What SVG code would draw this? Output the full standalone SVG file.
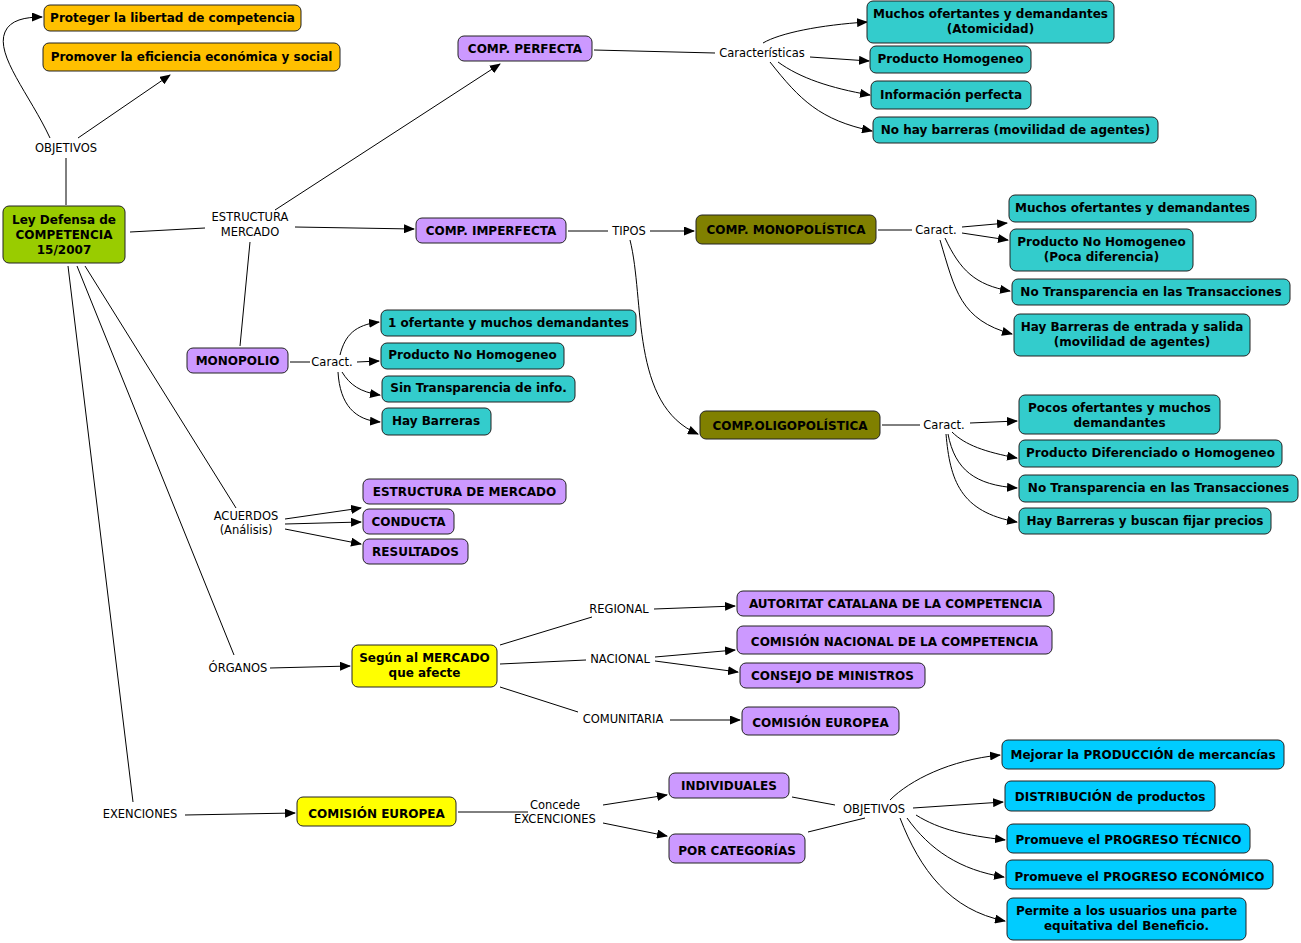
<svg xmlns="http://www.w3.org/2000/svg" width="1301" height="943" viewBox="0 0 1301 943">
<defs>
<marker id="ah" markerWidth="11" markerHeight="9" refX="10" refY="4.5" orient="auto" markerUnits="userSpaceOnUse">
<path d="M0,0 L11,4.5 L0,9 z" fill="#000"/>
</marker>
<style>
.n rect{stroke:#222;stroke-width:1;rx:6;ry:6}
.n text{font-family:"DejaVu Sans",Verdana,sans-serif;font-size:12px;font-weight:bold;fill:#000;text-anchor:middle}
.or rect{fill:#FFC000}
.gr rect{fill:#99CC00}
.pu rect{fill:#CC99FF}
.te rect{fill:#33CCCC}
.ol rect{fill:#808000}
.ye rect{fill:#FFFF00}
.cy rect{fill:#00CCFF}
.lb{font-family:"DejaVu Sans",Tahoma,sans-serif;font-size:11.5px;fill:#000;text-anchor:middle}
#connectors path{fill:none;stroke:#000;stroke-width:1}
#connectors .a{marker-end:url(#ah)}
</style>
</defs>
<rect width="1301" height="943" fill="#fff"/>

<g id="connectors">
<path d="M66,205 L66,158"/>
<path class="a" d="M50,138 C30,95 -5,55 5,32 C10,20 25,17 42,17"/>
<path class="a" d="M78,138 L170,75"/>
<path d="M130,232 L205,228"/>
<path class="a" d="M275,210 L500,64"/>
<path class="a" d="M295,227 L414,229"/>
<path d="M250,242 L240,346"/>
<path d="M594,50 L715,53"/>
<path class="a" d="M763,43 C780,33 820,25 867,22"/>
<path class="a" d="M810,57 L869,61"/>
<path class="a" d="M778,62 C800,78 830,88 870,95"/>
<path class="a" d="M770,62 C800,100 820,120 872,131"/>
<path d="M568,231 L608,231"/>
<path class="a" d="M650,231 L694,231"/>
<path class="a" d="M630,240 C645,300 630,405 698,434"/>
<path d="M878,230 L912,230"/>
<path class="a" d="M962,227 L1007,223"/>
<path class="a" d="M962,233 L1008,240"/>
<path class="a" d="M945,238 C960,270 975,285 1010,291"/>
<path class="a" d="M940,240 C955,290 960,320 1012,334"/>
<path d="M290,362 L310,362"/>
<path class="a" d="M340,355 C345,335 355,325 379,322"/>
<path class="a" d="M357,362 L379,361"/>
<path class="a" d="M342,372 C350,385 360,392 380,395"/>
<path class="a" d="M338,372 C340,405 355,420 380,422"/>
<path d="M882,425 L920,425"/>
<path class="a" d="M970,423 L1017,421"/>
<path class="a" d="M952,432 C965,445 985,452 1017,458"/>
<path class="a" d="M948,434 C955,470 975,485 1017,488"/>
<path class="a" d="M946,434 C950,480 960,512 1017,522"/>
<path d="M85,266 L236,508"/>
<path class="a" d="M285,519 L361,508"/>
<path class="a" d="M285,524 L361,522"/>
<path class="a" d="M285,529 L361,544"/>
<path d="M77,266 L234,655"/>
<path class="a" d="M270,668 L350,666"/>
<path d="M500,645 L592,617"/>
<path class="a" d="M654,609 L735,606"/>
<path d="M500,664 L586,660"/>
<path class="a" d="M655,657 L735,650"/>
<path class="a" d="M655,661 L738,672"/>
<path d="M500,687 L578,712"/>
<path class="a" d="M670,720 L740,720"/>
<path d="M68,266 L133,802"/>
<path class="a" d="M185,815 L295,813"/>
<path d="M458,812 L528,812"/>
<path class="a" d="M603,805 L667,795"/>
<path class="a" d="M603,823 L667,836"/>
<path d="M792,797 L835,805"/>
<path d="M808,832 L865,818"/>
<path class="a" d="M890,800 C910,780 950,760 1000,755"/>
<path class="a" d="M913,808 L1003,802"/>
<path class="a" d="M916,815 C940,830 965,835 1005,840"/>
<path class="a" d="M907,818 C930,850 960,870 1004,877"/>
<path class="a" d="M900,818 C920,870 950,910 1005,921"/>
</g>

<g class="lb">
<text class="lb" x="66" y="152">OBJETIVOS</text>
<text class="lb" x="250" y="221">ESTRUCTURA</text>
<text class="lb" x="250" y="236">MERCADO</text>
<text class="lb" x="762" y="57">Características</text>
<text class="lb" x="629" y="235">TIPOS</text>
<text class="lb" x="936" y="234">Caract.</text>
<text class="lb" x="332" y="366">Caract.</text>
<text class="lb" x="944" y="429">Caract.</text>
<text class="lb" x="246" y="520">ACUERDOS</text>
<text class="lb" x="246" y="534">(Análisis)</text>
<text class="lb" x="238" y="672">ÓRGANOS</text>
<text class="lb" x="619" y="613">REGIONAL</text>
<text class="lb" x="620" y="663">NACIONAL</text>
<text class="lb" x="623" y="723">COMUNITARIA</text>
<text class="lb" x="140" y="818">EXENCIONES</text>
<text class="lb" x="555" y="809">Concede</text>
<text class="lb" x="555" y="823">EXCENCIONES</text>
<text class="lb" x="874" y="813">OBJETIVOS</text>
</g>

<g id="n1" class="n or"><rect x="44" y="5" width="257" height="26"/><text x="172.5" y="22">Proteger la libertad de competencia</text></g>
<g id="n2" class="n or"><rect x="43" y="43" width="297" height="28"/><text x="191.5" y="61">Promover la eficiencia económica y social</text></g>
<g id="root" class="n gr"><rect x="3" y="206" width="122" height="57"/><text x="64" y="224">Ley Defensa de</text><text x="64" y="239">COMPETENCIA</text><text x="64" y="254">15/2007</text></g>
<g id="n4" class="n pu"><rect x="458" y="36" width="134" height="25"/><text x="525" y="53">COMP. PERFECTA</text></g>
<g id="n5" class="n pu"><rect x="416" y="218" width="150" height="25"/><text x="491" y="235">COMP. IMPERFECTA</text></g>
<g id="n6" class="n pu"><rect x="187" y="348" width="101" height="25"/><text x="237.5" y="365">MONOPOLIO</text></g>
<g id="n7" class="n ol"><rect x="696" y="215" width="180" height="29"/><text x="786" y="234">COMP. MONOPOLÍSTICA</text></g>
<g id="n8" class="n ol"><rect x="700" y="411" width="180" height="28"/><text x="790" y="430">COMP.OLIGOPOLÍSTICA</text></g>
<g id="n9" class="n te"><rect x="867" y="1" width="247" height="42"/><text x="990.5" y="18">Muchos ofertantes y demandantes</text><text x="990.5" y="33">(Atomicidad)</text></g>
<g id="n10" class="n te"><rect x="870" y="46" width="161" height="27"/><text x="950.5" y="63">Producto Homogeneo</text></g>
<g id="n11" class="n te"><rect x="871" y="81" width="160" height="28"/><text x="951" y="99">Información perfecta</text></g>
<g id="n12" class="n te"><rect x="873" y="117" width="285" height="26"/><text x="1015.5" y="134">No hay barreras (movilidad de agentes)</text></g>
<g id="n13" class="n te"><rect x="1009" y="195" width="247" height="27"/><text x="1132.5" y="212">Muchos ofertantes y demandantes</text></g>
<g id="n14" class="n te"><rect x="1010" y="229" width="183" height="42"/><text x="1101.5" y="246">Producto No Homogeneo</text><text x="1101.5" y="261">(Poca diferencia)</text></g>
<g id="n15" class="n te"><rect x="1012" y="279" width="278" height="26"/><text x="1151" y="296">No Transparencia en las Transacciones</text></g>
<g id="n16" class="n te"><rect x="1014" y="314" width="236" height="42"/><text x="1132" y="331">Hay Barreras de entrada y salida</text><text x="1132" y="346">(movilidad de agentes)</text></g>
<g id="n17" class="n te"><rect x="381" y="310" width="255" height="26"/><text x="508.5" y="327">1 ofertante y muchos demandantes</text></g>
<g id="n18" class="n te"><rect x="381" y="343" width="183" height="26"/><text x="472.5" y="359">Producto No Homogeneo</text></g>
<g id="n19" class="n te"><rect x="382" y="376" width="193" height="26"/><text x="478.5" y="392">Sin Transparencia de info.</text></g>
<g id="n20" class="n te"><rect x="382" y="408" width="109" height="27"/><text x="436" y="425">Hay Barreras</text></g>
<g id="n21" class="n te"><rect x="1019" y="395" width="201" height="39"/><text x="1119.5" y="412">Pocos ofertantes y muchos</text><text x="1119.5" y="427">demandantes</text></g>
<g id="n22" class="n te"><rect x="1019" y="440" width="263" height="27"/><text x="1150.5" y="457">Producto Diferenciado o Homogeneo</text></g>
<g id="n23" class="n te"><rect x="1019" y="475" width="279" height="27"/><text x="1158.5" y="492">No Transparencia en las Transacciones</text></g>
<g id="n24" class="n te"><rect x="1019" y="508" width="252" height="26"/><text x="1145" y="525">Hay Barreras y buscan fijar precios</text></g>
<g id="n25" class="n pu"><rect x="363" y="479" width="203" height="25"/><text x="464.5" y="496">ESTRUCTURA DE MERCADO</text></g>
<g id="n26" class="n pu"><rect x="363" y="509" width="91" height="25"/><text x="408.5" y="526">CONDUCTA</text></g>
<g id="n27" class="n pu"><rect x="363" y="539" width="105" height="25"/><text x="415.5" y="556">RESULTADOS</text></g>
<g id="n28" class="n ye"><rect x="352" y="645" width="145" height="42"/><text x="424.5" y="662">Según al MERCADO</text><text x="424.5" y="677">que afecte</text></g>
<g id="n29" class="n pu"><rect x="737" y="591" width="317" height="25"/><text x="895.5" y="608">AUTORITAT CATALANA DE LA COMPETENCIA</text></g>
<g id="n30" class="n pu"><rect x="737" y="626" width="315" height="28"/><text x="894.5" y="646">COMISIÓN NACIONAL DE LA COMPETENCIA</text></g>
<g id="n31" class="n pu"><rect x="740" y="663" width="185" height="25"/><text x="832.5" y="680">CONSEJO DE MINISTROS</text></g>
<g id="n32" class="n pu"><rect x="742" y="707" width="157" height="28"/><text x="820.5" y="727">COMISIÓN EUROPEA</text></g>
<g id="n33" class="n ye"><rect x="297" y="797" width="159" height="29"/><text x="376.5" y="818">COMISIÓN EUROPEA</text></g>
<g id="n34" class="n pu"><rect x="669" y="773" width="120" height="25"/><text x="729" y="790">INDIVIDUALES</text></g>
<g id="n35" class="n pu"><rect x="669" y="834" width="136" height="29"/><text x="737" y="855">POR CATEGORÍAS</text></g>
<g id="n36" class="n cy"><rect x="1002" y="740" width="282" height="29"/><text x="1143" y="759">Mejorar la PRODUCCIÓN de mercancías</text></g>
<g id="n37" class="n cy"><rect x="1005" y="781" width="210" height="30"/><text x="1110" y="801">DISTRIBUCIÓN de productos</text></g>
<g id="n38" class="n cy"><rect x="1007" y="824" width="243" height="29"/><text x="1128.5" y="844">Promueve el PROGRESO TÉCNICO</text></g>
<g id="n39" class="n cy"><rect x="1006" y="860" width="267" height="29"/><text x="1139.5" y="881">Promueve el PROGRESO ECONÓMICO</text></g>
<g id="n40" class="n cy"><rect x="1007" y="898" width="239" height="42"/><text x="1126.5" y="915">Permite a los usuarios una parte</text><text x="1126.5" y="930">equitativa del Beneficio.</text></g>
</svg>
